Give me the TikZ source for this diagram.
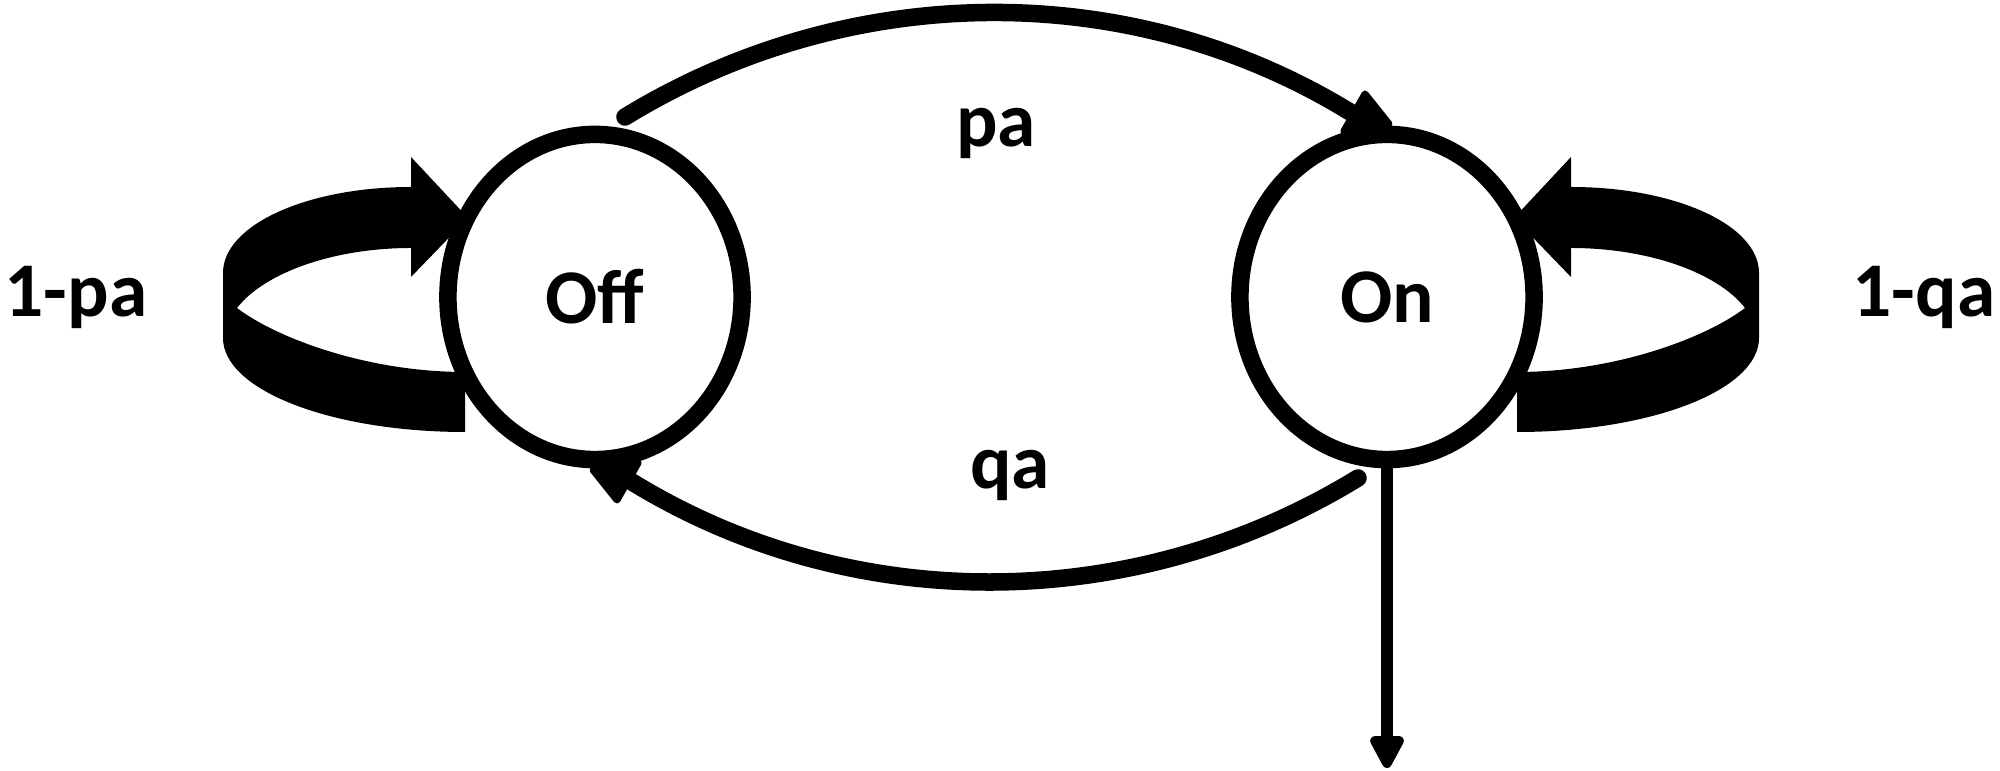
\documentclass[tikz,border=0pt]{standalone}
\usepackage{fontspec}
\setmainfont{Carlito}[BoldFont={Carlito Bold}]
\usetikzlibrary{arrows.meta,shapes.geometric,backgrounds}

\begin{document}
\begin{tikzpicture}[
    x=0.01cm, y=-0.01cm,
    statenode/.style={ellipse, draw=black, fill=white, line width=0.175cm, minimum width=2.94cm, minimum height=3.25cm, inner sep=0pt, font=\bfseries\fontsize{22}{26}\selectfont},
    lbl/.style={anchor=base, inner sep=0pt, font=\bfseries\fontsize{22}{26}\selectfont},
    trans/.style={line width=0.175cm, line cap=round},
    tiphead/.style={fill=black, draw=black, line width=2pt, line join=round},
    loopband/.style={fill=black},
    exitarrow/.style={line width=0.12cm, -{Triangle[length=0.38cm, width=0.37cm, round]}},
]
\useasboundingbox (0,0) rectangle (2000,771);

% --- States ---
\node[statenode] (off) at (595,297) {Off};
\node[statenode] (on) at (1387,297) {On};

% --- Self loops (behind the states) ---
\begin{scope}[on background layer]
\fill[loopband, shift={(off.center)}] (-184,-140) -- (-127,-79) -- (-184,-20) -- (-184,-49)
    .. controls (-260,-49) and (-330,-25) .. (-358,11)
    .. controls (-320,40) and (-230,75) .. (-130,75) -- (-130,135)
    .. controls (-264,135) and (-372,93) .. (-372,41) -- (-372,-24)
    .. controls (-372,-72) and (-288,-110) .. (-184,-110) -- cycle;
\fill[loopband, shift={(on.center)}, xscale=-1] (-184,-140) -- (-127,-79) -- (-184,-20) -- (-184,-49)
    .. controls (-260,-49) and (-330,-25) .. (-358,11)
    .. controls (-320,40) and (-230,75) .. (-130,75) -- (-130,135)
    .. controls (-264,135) and (-372,93) .. (-372,41) -- (-372,-24)
    .. controls (-372,-72) and (-288,-110) .. (-184,-110) -- cycle;
\end{scope}

% --- Transitions ---
\coordinate (pa-start) at ([shift={(30,-180)}]off.center);
\coordinate (pa-end) at ([shift={(-37,-185)}]on.center);
\coordinate (qa-start) at ([shift={(-29,181)}]on.center);
\coordinate (qa-end) at ([shift={(37,185)}]off.center);

\draw[trans] (pa-start) .. controls +(222,-136) and +(-222,-136) .. (pa-end);
\filldraw[tiphead] (pa-end) ++(15,-18) -- ++(-21,37) -- ++(45,-7) -- cycle;
\draw[trans] (qa-start) .. controls +(-222,136) and +(222,136) .. (qa-end);
\filldraw[tiphead] (qa-end) ++(-15,18) -- ++(21,-37) -- ++(-45,7) -- cycle;

% --- Labels ---
\node[lbl] (pa) at (996,147) {pa};
\node[lbl] (qa) at (1010,489) {qa};
\node[lbl, anchor=base west] (stayoff) at (4,317) {1-pa};
\node[lbl, anchor=base east] (stayon) at (1996,317) {1-qa};

% --- Exit ---
\coordinate (exit) at (1387,768);
\draw[exitarrow] (on.south) -- (exit);

\end{tikzpicture}
\end{document}
